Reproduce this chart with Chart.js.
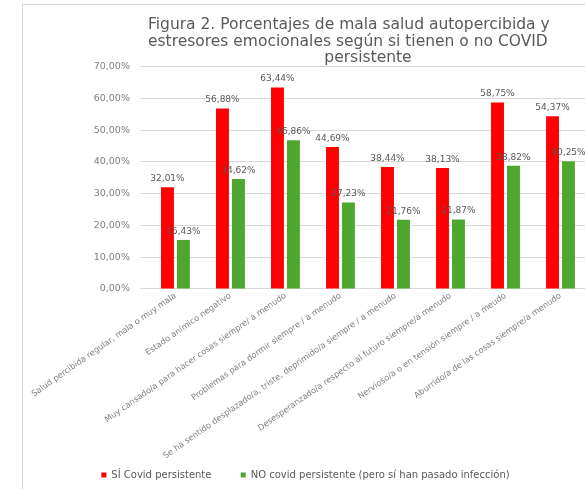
<!DOCTYPE html>
<html>
<head>
<meta charset="utf-8">
<script src="https://cdn.jsdelivr.net/npm/chart.js@4/dist/chart.umd.min.js"></script>
<style>
    html, body { margin: 0; padding: 0; background: #fff; overflow: hidden; }
    #frame {
        position: absolute;
        left: 22px;
        top: 4px;
        width: 583px;
        height: 485px;
        border-left: 1px solid #d9d9d9;
        border-top: 1px solid #d9d9d9;
    }
</style>
</head>
<body>
<div id="frame"><canvas id="chart"></canvas></div>
<script>
// Categories
const categories = [
    'Salud percibida regular, mala o muy mala',
    'Estado anímico negativo',
    'Muy cansado/a para hacer cosas siempre/ a menudo',
    'Problemas para dormir siempre / a menudo',
    'Se ha sentido desplazado/a, triste, deprimido/a siempre / a menudo',
    'Desesperanzado/a respecto al futuro siempre/a menudo',
    'Nervioso/a o en tensión siempre / a meudo',
    'Aburrido/a de las cosas siempre/a menudo'
];

// Series values (%)
const siCovid = [32.01, 56.88, 63.44, 44.69, 38.44, 38.13, 58.75, 54.37];
const noCovid = [15.43, 34.62, 46.86, 27.23, 21.76, 21.87, 38.82, 40.25];

// Series names
const seriesNames = ['SÍ Covid persistente', 'NO covid persistente (pero sí han pasado infección)'];

// Y axis ticks
const yTicks = [0, 10, 20, 30, 40, 50, 60, 70];

const fontFamily = '"DejaVu Sans", sans-serif';
const textColor = '#7f7f7f';
const titleFont = { family: fontFamily, size: 15.5, weight: 'normal', lineHeight: 1.07 };

function formatPct(v) {
    return v.toFixed(2).replace('.', ',') + '%';
}

// Draw value labels above each bar
const valueLabels = {
    id: 'valueLabels',
    afterDatasetsDraw(chart) {
        const ctx = chart.ctx;
        ctx.save();
        ctx.font = '9px ' + fontFamily;
        ctx.fillStyle = '#595959';
        ctx.textAlign = 'center';
        ctx.textBaseline = 'bottom';
        chart.data.datasets.forEach((ds, i) => {
            const meta = chart.getDatasetMeta(i);
            meta.data.forEach((bar, j) => {
                ctx.fillText(formatPct(ds.data[j]), bar.x, bar.y - 4);
            });
        });
        ctx.restore();
    }
};

const ctx = document.getElementById('chart').getContext('2d');
new Chart(ctx, {
    type: 'bar',
    data: {
        labels: categories,
        datasets: [{
            label: seriesNames[0],
            data: siCovid,
            backgroundColor: '#ff0000',
            borderWidth: 0
        }, {
            label: seriesNames[1],
            data: noCovid,
            backgroundColor: '#4ea72e',
            borderWidth: 0
        }]
    },
    options: {
        responsive: true,
        maintainAspectRatio: false,
        animation: false,
        datasets: {
            bar: {
                categoryPercentage: 0.58,
                barPercentage: 0.81
            }
        },
        layout: {
            padding: { left: 0, right: 18, top: 0, bottom: 0 }
        },
        plugins: {
            title: {
                display: true,
                fullSize: false,
                align: 'start',
                text: [
                    'Figura 2. Porcentajes de mala salud autopercibida y',
                    'estresores emocionales según si tienen o no COVID'
                ],
                color: '#595959',
                font: titleFont,
                padding: { top: 12, bottom: 0 }
            },
            subtitle: {
                display: true,
                fullSize: false,
                text: 'persistente',
                color: '#595959',
                font: titleFont,
                padding: { top: 0, bottom: 0 }
            },
            legend: {
                position: 'bottom',
                labels: {
                    boxWidth: 5,
                    boxHeight: 5,
                    padding: 7,
                    color: '#595959',
                    font: { family: fontFamily, size: 10 },
                    generateLabels: function(chart) {
                        const items = Chart.defaults.plugins.legend.labels.generateLabels(chart);
                        // wider gap between the two entries
                        items[0].text = items[0].text + '       ';
                        return items;
                    }
                }
            },
            tooltip: { enabled: false }
        },
        scales: {
            x: {
                grid: { display: false, drawTicks: false },
                border: { display: false },
                ticks: {
                    autoSkip: false,
                    minRotation: 35,
                    maxRotation: 35,
                    padding: 2,
                    color: textColor,
                    font: { family: fontFamily, size: 8.3 }
                }
            },
            y: {
                min: 0,
                max: 70,
                afterBuildTicks: function(axis) {
                    axis.ticks = yTicks.map(v => ({ value: v }));
                },
                grid: { color: '#d9d9d9' },
                border: { display: false },
                ticks: {
                    padding: 10,
                    color: textColor,
                    font: { family: fontFamily, size: 9.5 },
                    callback: function(value) {
                        return formatPct(value);
                    }
                }
            }
        }
    },
    plugins: [valueLabels]
});
</script>
</body>
</html>
